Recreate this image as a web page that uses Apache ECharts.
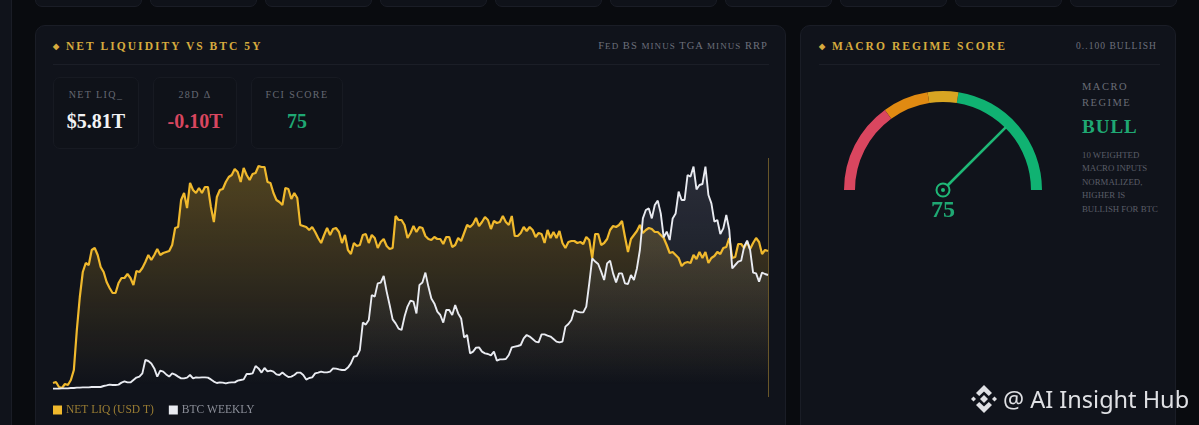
<!DOCTYPE html>
<html><head><meta charset="utf-8">
<script src="https://cdn.jsdelivr.net/npm/echarts@6/dist/echarts.min.js"></script>
<style>
html,body{margin:0;padding:0;width:1199px;height:425px;overflow:hidden;background:#090b0f}
*{box-sizing:border-box}
#page{position:absolute;left:0;top:0;width:1199px;height:425px;font-family:"Liberation Serif",serif}
.abs{position:absolute;white-space:nowrap}
.box{position:absolute;background:#10131b;border:1px solid #1a1d26}
.title{color:#d6ab3e;font-weight:bold;font-size:11.5px;letter-spacing:2.05px;line-height:14px}
.title i{font-style:normal;font-size:8px;position:relative;top:-1px;margin-right:7px;letter-spacing:0}
.sub{color:#6d707b;font-size:10.5px;letter-spacing:1.05px;line-height:14px}
.line{position:absolute;height:1px;background:#1b1e27}
.stat{position:absolute;top:77px;height:72px;background:#0f1219;border:1px solid #171a22;border-radius:7px;text-align:center}
.stat .l{position:absolute;left:0;right:0;top:11px;font-size:10px;letter-spacing:1.4px;color:#666973;line-height:12px}
.stat .v{position:absolute;left:0;right:0;top:31px;font-size:20px;font-weight:bold;line-height:24px}
#chart{position:absolute;left:0;top:0;width:1199px;height:425px}
</style></head>
<body>
<div id="page">
  <div class="abs" style="left:0;top:0;width:12px;height:425px;background:#10131b;border-right:1px solid #1a1d26"></div>
  <div id="cards"></div>
  <div class="box" style="left:35px;top:25px;width:751px;height:440px;border-radius:10px"></div>
  <div class="box" style="left:800px;top:25px;width:376px;height:440px;border-radius:10px"></div>

  <div class="abs title" style="left:53px;top:39px"><i>◆</i>NET LIQUIDITY VS BTC 5Y</div>
  <div class="abs sub" style="right:431px;top:39px">F<span style="font-size:9px">ED</span> BS <span style="font-size:9px">MINUS</span> TGA <span style="font-size:9px">MINUS</span> RRP</div>
  <div class="line" style="left:53px;top:64px;width:716px"></div>
  <div class="stat" style="left:53px;width:86px"><div class="l">NET LIQ_</div><div class="v" style="color:#f2f2f4">$5.81T</div></div>
  <div class="stat" style="left:153px;width:84px"><div class="l">28D Δ</div><div class="v" style="color:#d8465f">-0.10T</div></div>
  <div class="stat" style="left:251px;width:92px"><div class="l">FCI SCORE</div><div class="v" style="color:#1fa873">75</div></div>

  <div class="abs title" style="left:819px;top:39px"><i>◆</i>MACRO REGIME SCORE</div>
  <div class="abs sub" style="left:1076px;top:39px;font-size:9.5px">0..100 BULLISH</div>
  <div class="line" style="left:819px;top:64px;width:341px"></div>
  <div class="abs" style="left:1082px;top:79px;color:#6a6d77;font-size:10.5px;letter-spacing:1.5px;line-height:16px">MACRO<br>REGIME</div>
  <div class="abs" style="left:1082px;top:116px;color:#1fa873;font-size:19px;font-weight:bold;letter-spacing:1px;line-height:22px">BULL</div>
  <div class="abs" style="left:1082px;top:148.500px;color:#5a5d67;font-size:8.800px;line-height:13.500px">10 WEIGHTED<br>MACRO INPUTS<br>NORMALIZED,<br>HIGHER IS<br>BULLISH FOR BTC</div>
</div>
<div id="chart"></div>
<div id="wm" class="abs" style="left:970px;top:384px;width:225px;height:30px;font-family:'Noto Sans',sans-serif;font-size:23.500px;line-height:30px;color:#dfe0e4">
  <svg width="28" height="30" viewBox="0 0 28 30" style="position:absolute;left:0;top:0" fill="#dfe0e4">
    <path d="M14 1 L22 9 L18.800 12 L14 7.500 L9.200 12 L6 9 Z"/>
    <path d="M14 29 L22 21 L18.800 18 L14 22.500 L9.200 18 L6 21 Z"/>
    <path d="M14 11 L18 15 L14 19 L10 15 Z"/>
    <path d="M3.500 12.500 L6 15 L3.500 17.500 L1 15 Z"/>
    <path d="M24.500 12.500 L27 15 L24.500 17.500 L22 15 Z"/>
  </svg>
  <span style="position:absolute;left:33px;top:0;white-space:nowrap">@ AI Insight Hub</span>
</div>
<script>
// Net liquidity, USD trillions
const netLiq = [4.49,4.50,4.45,4.44,4.48,4.47,4.52,4.62,5.02,5.35,
5.60,5.69,5.67,5.82,5.84,5.77,5.65,5.60,5.50,5.44,
5.39,5.39,5.49,5.54,5.54,5.58,5.54,5.47,5.61,5.60,
5.64,5.70,5.77,5.72,5.77,5.83,5.77,5.79,5.80,5.81,
5.87,6.04,6.05,6.32,6.39,6.24,6.49,6.42,6.39,6.44,
6.39,6.45,6.45,6.25,6.10,6.35,6.42,6.43,6.50,6.55,
6.57,6.63,6.60,6.50,6.64,6.57,6.52,6.58,6.59,6.66,
6.65,6.65,6.50,6.49,6.39,6.32,6.30,6.27,6.44,
6.43,6.33,6.39,6.34,6.07,6.06,6.05,6.02,6.05,6.0,
5.94,5.89,5.97,6.04,5.97,6.03,6.04,6.0,5.89,5.97,
5.82,5.78,5.89,5.86,5.87,5.97,5.98,5.89,5.97,5.94,
5.84,5.9,5.93,5.86,5.83,5.84,6.16,6.12,6.12,6.07,
5.94,5.99,6.06,6.0,6.05,6.04,5.96,5.93,5.92,5.95,
5.93,5.93,5.88,5.95,5.95,5.85,5.87,5.94,5.91,5.99,
6.07,6.05,6.08,6.14,6.06,6.10,6.15,6.12,6.03,6.11,
6.09,6.10,6.16,6.10,6.07,6.16,5.96,5.96,5.99,6.05,6.01,
6.05,6.02,5.95,5.99,5.98,5.89,6.02,5.94,6.0,5.94,
6.01,5.89,5.84,5.9,5.91,5.91,5.89,5.9,5.88,5.95,
5.92,5.74,5.98,5.98,5.87,5.89,5.93,6.02,6.06,6.05,
6.07,6.11,5.95,5.8,5.93,5.97,6.01,6.07,5.99,6.02,
6.04,6.03,6.0,6.0,5.97,5.94,5.87,5.79,5.8,5.77,
5.74,5.66,5.69,5.7,5.69,5.77,5.73,5.8,5.74,5.8,
5.69,5.74,5.76,5.8,5.78,5.84,5.85,5.94,5.74,5.75,
5.88,5.88,5.84,5.9,5.83,5.89,5.94,5.9,5.78,5.82,5.81];
// Bitcoin weekly close, USD thousands
const btcWeekly = [.2,.2,.2,.3,.3,.3,.5,.5,.7,.7,
.8,.8,.8,1,1,1,1,1.5,1.8,2.2,
2,2,2.2,3.2,3.8,3.3,3.3,4.5,5.7,6.2,
7.8,14.5,14,12.8,10.3,6.2,9.2,8.7,7.3,6.2,
7.8,7.2,6.2,5.3,5.3,5.7,7,5.3,5.8,5.7,
5.8,5.8,5.7,4.8,3.7,3,3.3,3.2,2.8,3.2,
3.3,3.3,4.2,4.5,4.8,7.5,7.5,7.8,11.5,10.3,
8.2,10.5,8.8,9.2,8.7,7.3,7,8.2,7,
6,6.2,7,8.2,8.2,7,4.7,5.5,5.8,7.8,
8.2,8.7,8.3,8.3,8.7,10.3,10.2,9.8,9.5,9.5,
10.7,12.8,16.2,16.5,19.5,33.2,32.2,34.5,47,46.2,
52.8,53.2,56.5,48.7,42,34.8,32.8,30.2,29.5,36.2,
41.2,44.2,43.7,37.8,52,53.2,58.2,51.2,45.3,42.8,
38.7,37,33.2,39.5,39.5,37,42,37.8,35.3,25.8,
27,17.8,18.7,20.7,20.8,18.7,17.8,17.5,16.8,
18.7,14.2,14.8,14.8,15,17,20.8,21.2,21.5,22,
25.3,27,
26.2,25,23.7,23.3,27.3,27.3,26.7,26.2,25,23.7,
23.3,23.7,31.2,32.5,34.5,39.5,38.7,38.3,38.3,41.2,
52.8,65.3,63.7,62.5,58.7,54.5,62.8,64.2,57.8,53.3,
57.8,57.8,52.8,52.5,57,54.5,60.3,69.5,85.3,89.5,
90.3,85.3,92,94.2,87.8,75.8,78.7,74.5,85.3,
87.8,98.7,94.5,94.5,107,106.2,111.2,99.8,102,102.5,
111.2,97,92.8,83.7,84.5,77.5,80.3,87,79.5,60.3,
62,63.7,64.2,71.2,74.2,69.5,58.2,57.8,53.7,58.2,
57.5,57];
const weeks = netLiq.map((_, i) => 'W' + (i + 1));
const regimeScore = 75;
const gaugeBands = [[0.30,'#d9465f'],[0.45,'#e08a12'],[0.55,'#d8a522'],[1,'#10b272']];

const cards = document.getElementById('cards');
for (let i = 0; i < 10; i++) {
  const d = document.createElement('div');
  d.className = 'box';
  d.style.cssText = `left:${35 + 115 * i}px;top:-20px;width:107px;height:27px;border-radius:7px;background:#0f1219`;
  cards.appendChild(d);
}

const chart = echarts.init(document.getElementById('chart'), null, {renderer:'canvas'});
const vGrad = (a, b) => ({type:'linear',x:0,y:0,x2:0,y2:1,colorStops:[{offset:0,color:a},{offset:.95,color:b},{offset:1,color:b}]});
chart.setOption({
  animation:false,
  backgroundColor:'transparent',
  legend:{left:48,top:399,itemWidth:9,itemHeight:9,itemGap:15,icon:'rect',
    textStyle:{fontFamily:'Liberation Serif',fontSize:11.5,padding:[1,0,0,-1]},
    data:[{name:'NET LIQ (USD T)',textStyle:{color:'#9a7d33'}},{name:'BTC WEEKLY',textStyle:{color:'#8b8e98'}}]},
  grid:{left:53,top:158,width:715,height:239},
  xAxis:{type:'category',data:weeks,boundaryGap:false,show:false},
  yAxis:[{type:'value',min:4.35,max:6.74,show:false},{type:'value',min:-4,max:115.5,show:false}],
  series:[
    {name:'NET LIQ (USD T)',type:'line',data:netLiq,yAxisIndex:0,symbol:'none',
     lineStyle:{color:'#f0b92d',width:2.2},itemStyle:{color:'#f0b92d'},
     areaStyle:{origin:'start',color:vGrad('rgba(240,185,45,.42)','rgba(240,185,45,0)')},
     markLine:{silent:true,symbol:'none',label:{show:false},lineStyle:{color:'rgba(212,168,60,.45)',width:1,type:'solid'},data:[{xAxis:weeks[weeks.length-1]}]}},
    {name:'BTC WEEKLY',type:'line',data:btcWeekly,yAxisIndex:1,symbol:'none',
     lineStyle:{color:'#e9ebf1',width:1.9},itemStyle:{color:'#e9ebf1'},
     areaStyle:{origin:'start',color:vGrad('rgba(205,215,245,.2)','rgba(205,215,245,0)')}},
    {type:'gauge',center:[943,190],radius:99,startAngle:180,endAngle:0,min:0,max:100,
     axisLine:{roundCap:false,lineStyle:{width:11,color:gaugeBands}},
     axisTick:{show:false},splitLine:{show:false},axisLabel:{show:false},
     pointer:{icon:'rect',length:89,width:2.6,offsetCenter:[0,0],itemStyle:{color:'#1fb877'}},
     anchor:{show:true,showAbove:true,size:13,icon:'circle',itemStyle:{color:'#10131b',borderColor:'#1fb877',borderWidth:2}},
     title:{show:false},
     detail:{valueAnimation:false,offsetCenter:[0,21],fontFamily:'Liberation Serif',fontWeight:'bold',fontSize:24,color:'#1fa873',formatter:'{value}'},
     data:[{value:regimeScore}]}
  ],
  graphic:[{type:'circle',shape:{cx:943,cy:190,r:2},style:{fill:'#1fb877'},z:100}]
});
</script>
</body></html>
